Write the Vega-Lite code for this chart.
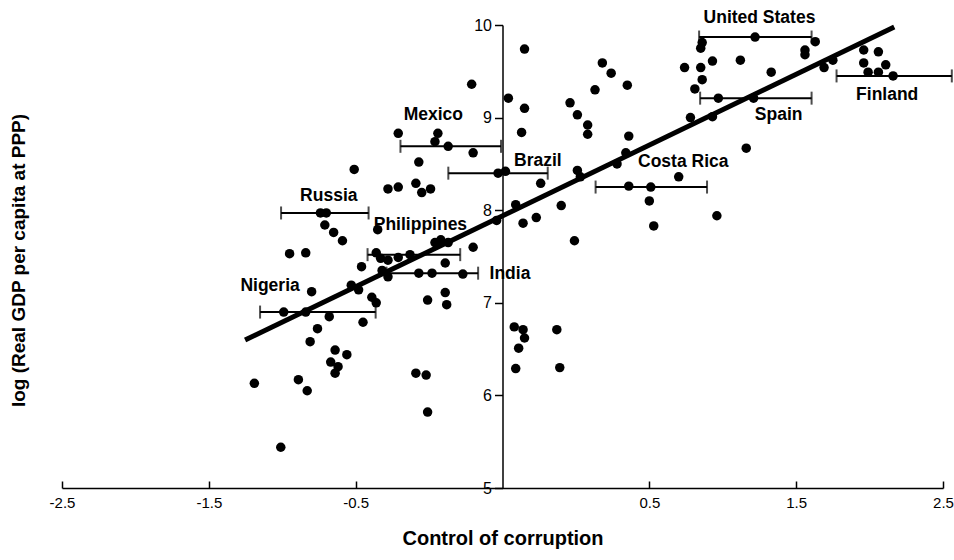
{
  "$schema": "https://vega.github.io/schema/vega-lite/v6.json",
  "width": 881,
  "height": 463,
  "autosize": "none",
  "padding": {"left": 62, "top": 25, "right": 11, "bottom": 72},
  "background": "white",
  "config": {
    "view": {"stroke": null},
    "font": "Liberation Sans"
  },
  "datasets": {
    "points": [
      {"x": -0.71, "y": 8.83}, {"x": -0.44, "y": 8.83}, {"x": -0.46, "y": 8.74}, {"x": -0.37, "y": 8.69},
      {"x": -0.20, "y": 8.62}, {"x": 0.04, "y": 9.21}, {"x": 0.15, "y": 9.10}, {"x": 0.13, "y": 8.84},
      {"x": -0.57, "y": 8.52}, {"x": -1.01, "y": 8.44}, {"x": -0.03, "y": 8.40}, {"x": 0.02, "y": 8.42},
      {"x": -0.78, "y": 8.23}, {"x": -0.71, "y": 8.25}, {"x": -0.59, "y": 8.29}, {"x": -0.55, "y": 8.19},
      {"x": -0.49, "y": 8.23}, {"x": -1.24, "y": 7.97}, {"x": -1.20, "y": 7.97}, {"x": -1.21, "y": 7.84},
      {"x": -1.15, "y": 7.76}, {"x": -1.09, "y": 7.67}, {"x": -0.85, "y": 7.79}, {"x": -0.04, "y": 7.89},
      {"x": -0.42, "y": 7.68}, {"x": -0.37, "y": 7.65}, {"x": -0.46, "y": 7.65}, {"x": -0.20, "y": 7.60},
      {"x": -1.45, "y": 7.53}, {"x": -1.34, "y": 7.54}, {"x": -0.86, "y": 7.54}, {"x": -0.63, "y": 7.52},
      {"x": -0.39, "y": 7.43}, {"x": -0.96, "y": 7.39}, {"x": -0.83, "y": 7.48}, {"x": -0.78, "y": 7.46},
      {"x": -0.71, "y": 7.49}, {"x": -0.82, "y": 7.35}, {"x": -0.78, "y": 7.28}, {"x": -0.57, "y": 7.32},
      {"x": -0.48, "y": 7.32}, {"x": -0.27, "y": 7.31}, {"x": -1.30, "y": 7.12}, {"x": -1.03, "y": 7.19},
      {"x": -0.98, "y": 7.14}, {"x": -0.89, "y": 7.06}, {"x": -0.86, "y": 7.00}, {"x": -0.51, "y": 7.03},
      {"x": -0.39, "y": 7.11}, {"x": -0.38, "y": 6.98}, {"x": -1.49, "y": 6.90}, {"x": -1.34, "y": 6.90},
      {"x": -1.18, "y": 6.85}, {"x": -0.95, "y": 6.79}, {"x": -1.26, "y": 6.72}, {"x": -1.31, "y": 6.58},
      {"x": -1.14, "y": 6.49}, {"x": -1.06, "y": 6.44}, {"x": -1.17, "y": 6.36}, {"x": -1.12, "y": 6.31},
      {"x": -1.14, "y": 6.24}, {"x": -1.69, "y": 6.13}, {"x": -1.39, "y": 6.17}, {"x": -1.33, "y": 6.05},
      {"x": -0.59, "y": 6.24}, {"x": -0.52, "y": 6.22}, {"x": -0.51, "y": 5.82}, {"x": -1.51, "y": 5.44},
      {"x": 0.26, "y": 8.29}, {"x": 0.51, "y": 8.43}, {"x": 0.53, "y": 8.36}, {"x": 0.84, "y": 8.62},
      {"x": 0.78, "y": 8.50}, {"x": 0.86, "y": 8.26}, {"x": 1.01, "y": 8.25}, {"x": 1.20, "y": 8.36},
      {"x": 1.00, "y": 8.10}, {"x": 1.03, "y": 7.83}, {"x": 1.46, "y": 7.94}, {"x": 0.09, "y": 8.06},
      {"x": 0.14, "y": 7.86}, {"x": 0.23, "y": 7.92}, {"x": 0.40, "y": 8.05}, {"x": 0.49, "y": 7.67},
      {"x": 0.08, "y": 6.74}, {"x": 0.14, "y": 6.71}, {"x": 0.15, "y": 6.62}, {"x": 0.11, "y": 6.51},
      {"x": 0.37, "y": 6.71}, {"x": 0.09, "y": 6.29}, {"x": 0.39, "y": 6.30}, {"x": 0.58, "y": 8.82},
      {"x": 0.86, "y": 8.80}, {"x": 1.66, "y": 8.67}, {"x": 1.72, "y": 9.87}, {"x": 1.36, "y": 9.81},
      {"x": 1.35, "y": 9.75}, {"x": 2.13, "y": 9.82}, {"x": 2.06, "y": 9.73}, {"x": 2.06, "y": 9.68},
      {"x": 1.43, "y": 9.61}, {"x": 1.35, "y": 9.54}, {"x": 1.24, "y": 9.54}, {"x": 1.62, "y": 9.62},
      {"x": 1.83, "y": 9.49}, {"x": 1.36, "y": 9.41}, {"x": 1.31, "y": 9.31}, {"x": 1.47, "y": 9.21},
      {"x": 1.71, "y": 9.21}, {"x": 2.19, "y": 9.54}, {"x": 2.25, "y": 9.62}, {"x": 2.46, "y": 9.73},
      {"x": 2.56, "y": 9.71}, {"x": 2.46, "y": 9.59}, {"x": 2.61, "y": 9.57}, {"x": 2.49, "y": 9.49},
      {"x": 2.56, "y": 9.49}, {"x": 2.66, "y": 9.45}, {"x": 0.68, "y": 9.59}, {"x": 0.74, "y": 9.48},
      {"x": 0.63, "y": 9.30}, {"x": 0.85, "y": 9.35}, {"x": 0.46, "y": 9.16}, {"x": 0.51, "y": 9.03},
      {"x": 0.58, "y": 8.92}, {"x": 1.28, "y": 9.00}, {"x": 1.43, "y": 9.01}, {"x": 0.15, "y": 9.74},
      {"x": -0.21, "y": 9.36}
    ],
    "fit": [
      {"x": -1.753, "y": 6.598},
      {"x": 2.668, "y": 9.978}
    ],
    "countries": [
      {"name": "United States", "lo": 1.339, "hi": 2.105, "v": 9.87, "lx": 1.75, "ly": 10.076},
      {"name": "Spain", "lo": 1.346, "hi": 2.105, "v": 9.21, "lx": 1.881, "ly": 9.028},
      {"name": "Finland", "lo": 2.275, "hi": 3.06, "v": 9.45, "lx": 2.62, "ly": 9.244},
      {"name": "Costa Rica", "lo": 0.634, "hi": 1.393, "v": 8.25, "lx": 1.231, "ly": 8.521},
      {"name": "Brazil", "lo": -0.369, "hi": 0.308, "v": 8.40, "lx": 0.241, "ly": 8.531},
      {"name": "Mexico", "lo": -0.695, "hi": -0.01, "v": 8.69, "lx": -0.471, "ly": 9.028},
      {"name": "Russia", "lo": -1.508, "hi": -0.912, "v": 7.97, "lx": -1.183, "ly": 8.153},
      {"name": "Philippines", "lo": -0.919, "hi": -0.288, "v": 7.52, "lx": -0.559, "ly": 7.84},
      {"name": "India", "lo": -0.79, "hi": -0.166, "v": 7.32, "lx": 0.051, "ly": 7.311},
      {"name": "Nigeria", "lo": -1.651, "hi": -0.864, "v": 6.90, "lx": -1.583, "ly": 7.181}
    ]
  },
  "encoding": {
    "x": {
      "type": "quantitative",
      "scale": {"domain": [-3, 3], "nice": false, "zero": false},
      "axis": {
        "title": "Control of corruption",
        "values": [-3, -2, -1, 1, 2, 3],
        "labelExpr": "datum.value == -3 ? '-2.5' : datum.value == -2 ? '-1.5' : datum.value == -1 ? '-0.5' : datum.value == 1 ? '0.5' : datum.value == 2 ? '1.5' : '2.5'",
        "grid": false,
        "domainColor": "black",
        "domainWidth": 1.5,
        "tickColor": "black",
        "tickSize": -7,
        "tickWidth": 1.5,
        "labelFont": "Liberation Sans",
        "labelFontSize": 15,
        "labelColor": "black",
        "labelPadding": 14,
        "labelFlush": false,
        "titleFont": "Liberation Sans",
        "titleFontSize": 20,
        "titleFontWeight": "bold",
        "titleColor": "black",
        "titlePadding": 18
      }
    },
    "y": {
      "type": "quantitative",
      "scale": {"domain": [5, 10], "nice": false, "zero": false},
      "axis": {
        "title": "log (Real GDP per capita at PPP)",
        "values": [5, 6, 7, 8, 9, 10],
        "offset": -440.5,
        "grid": false,
        "domainColor": "black",
        "domainWidth": 1.5,
        "tickColor": "black",
        "tickSize": 8,
        "tickWidth": 1.5,
        "labelFont": "Liberation Sans",
        "labelFontSize": 16,
        "labelColor": "black",
        "labelPadding": 3,
        "titleFont": "Liberation Sans",
        "titleFontSize": 19,
        "titleFontWeight": "bold",
        "titleColor": "black",
        "titleX": -484.5,
        "titleY": 235,
        "titleAngle": -90,
        "titleAlign": "center",
        "titleBaseline": "middle"
      }
    }
  },
  "layer": [
    {
      "data": {"name": "countries"},
      "mark": {"type": "rule", "color": "black", "strokeWidth": 2, "clip": false},
      "encoding": {
        "x": {"field": "lo", "type": "quantitative"},
        "x2": {"field": "hi"},
        "y": {"field": "v", "type": "quantitative"}
      }
    },
    {
      "data": {"name": "countries"},
      "transform": [{"fold": ["lo", "hi"], "as": ["end", "pos"]}],
      "mark": {"type": "tick", "orient": "vertical", "color": "black", "size": 13, "thickness": 2, "clip": false},
      "encoding": {
        "x": {"field": "pos", "type": "quantitative"},
        "y": {"field": "v", "type": "quantitative"}
      }
    },
    {
      "data": {"name": "fit"},
      "mark": {"type": "line", "color": "black", "strokeWidth": 5, "strokeCap": "butt"},
      "encoding": {
        "x": {"field": "x", "type": "quantitative"},
        "y": {"field": "y", "type": "quantitative"}
      }
    },
    {
      "data": {"name": "points"},
      "mark": {"type": "circle", "color": "black", "opacity": 1, "size": 90},
      "encoding": {
        "x": {"field": "x", "type": "quantitative"},
        "y": {"field": "y", "type": "quantitative"}
      }
    },
    {
      "data": {"name": "countries"},
      "mark": {"type": "text", "font": "Liberation Sans", "fontWeight": "bold", "fontSize": 17.5, "color": "black", "align": "center", "baseline": "middle"},
      "encoding": {
        "x": {"field": "lx", "type": "quantitative"},
        "y": {"field": "ly", "type": "quantitative"},
        "text": {"field": "name"}
      }
    }
  ]
}
